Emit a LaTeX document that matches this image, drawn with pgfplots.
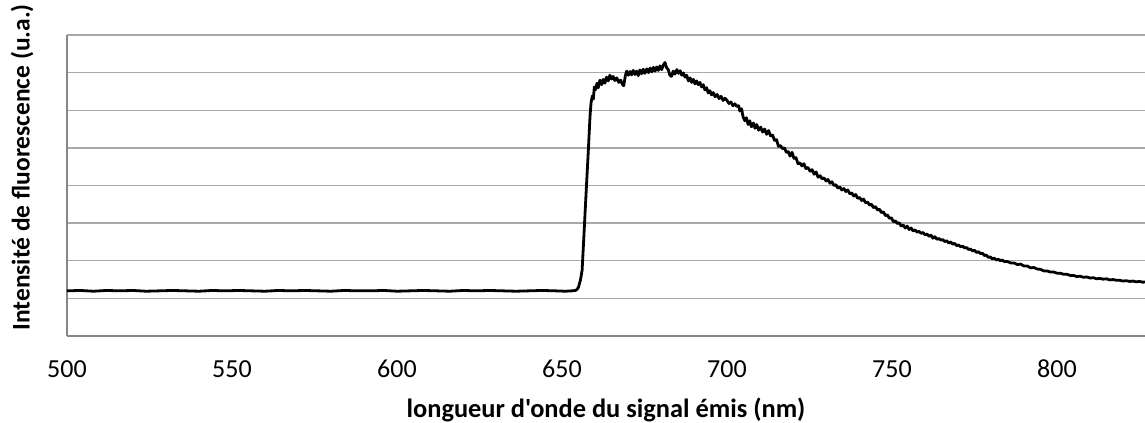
\documentclass[border=0pt]{standalone}
\usepackage{pgfplots}
\pgfplotsset{compat=1.18}
\usepackage{pgfplotstable}
\usepackage{fontspec}
\setmainfont{Carlito}[Ligatures=TeXOff]
\pgfplotstableread{
x y
500 1.20
504 1.21
508 1.19
512 1.21
516 1.20
520 1.21
524 1.19
528 1.20
532 1.21
536 1.20
540 1.19
544 1.21
548 1.20
552 1.21
556 1.20
560 1.19
564 1.21
568 1.20
572 1.21
576 1.20
580 1.19
584 1.21
588 1.20
592 1.20
596 1.21
600 1.19
604 1.20
608 1.21
612 1.20
616 1.19
620 1.21
624 1.20
628 1.21
632 1.20
636 1.19
640 1.20
644 1.21
648 1.20
651 1.19
653 1.20
654.0 1.21
654.5 1.23
655.0 1.30
655.6 1.49
656.1 1.75
656.7 2.77
657.3 3.80
657.9 4.80
658.5 5.85
658.8 6.20
659.2 6.38
659.5 6.30
659.8 6.62
660.2 6.55
660.6 6.72
661.0 6.60
661.5 6.80
662.0 6.68
662.5 6.82
663.0 6.72
663.5 6.88
664.0 6.78
664.5 6.93
665.0 6.83
665.5 6.90
666.0 6.79
666.6 6.86
667.2 6.74
667.8 6.80
668.3 6.69
668.7 6.65
669.2 6.92
669.6 7.04
670.1 6.93
670.6 7.03
671.1 6.94
671.6 7.06
672.1 6.95
672.6 7.04
673.1 6.92
673.6 7.07
674.1 6.97
674.6 7.09
675.1 6.98
675.7 7.10
676.2 7.00
676.7 7.12
677.2 7.02
677.7 7.14
678.2 7.04
678.7 7.15
679.2 7.06
679.7 7.18
680.2 7.08
680.7 7.20
681.2 7.27
681.7 7.13
682.2 7.08
682.7 6.93
683.2 6.90
683.7 7.04
684.2 6.96
684.8 7.08
685.3 6.98
685.8 7.05
686.3 6.93
686.8 6.99
687.3 6.88
687.8 6.93
688.3 6.78
688.8 6.86
689.3 6.74
689.8 6.82
690.3 6.70
690.8 6.78
691.3 6.68
691.8 6.74
692.3 6.62
692.8 6.68
693.3 6.54
693.8 6.60
694.3 6.46
694.8 6.52
695.3 6.41
695.8 6.47
696.4 6.36
697.0 6.42
697.6 6.31
698.2 6.37
698.8 6.26
699.4 6.32
700.0 6.26
700.6 6.18
701.2 6.22
701.8 6.12
702.4 6.17
703.0 6.10
703.5 6.12
703.9 5.98
704.4 6.04
704.9 5.82
705.4 5.72
705.9 5.80
706.4 5.62
706.9 5.72
707.4 5.56
708.0 5.66
708.5 5.52
709.0 5.62
709.6 5.47
710.2 5.55
710.8 5.42
711.4 5.50
712.0 5.36
712.6 5.46
713.2 5.32
713.8 5.34
714.4 5.20
715.0 5.22
715.6 5.04
716.2 5.06
716.8 4.98
717.4 5.00
718.0 4.88
718.6 4.90
719.1 4.78
719.7 4.88
720.3 4.72
720.9 4.74
721.5 4.58
722.1 4.60
722.7 4.52
723.3 4.58
723.9 4.45
724.5 4.48
725.2 4.38
725.8 4.42
726.4 4.30
727.0 4.36
727.6 4.22
728.2 4.26
728.8 4.18
729.4 4.20
730.0 4.12
730.6 4.16
731.2 4.06
731.8 4.10
732.4 4.00
733.0 4.02
733.6 3.93
734.2 3.96
734.8 3.88
735.4 3.92
736.0 3.84
736.6 3.88
737.2 3.78
737.8 3.80
738.4 3.72
739.0 3.76
739.6 3.66
740.2 3.68
740.8 3.60
741.4 3.64
742.0 3.54
742.6 3.56
743.2 3.48
743.8 3.50
744.4 3.41
745.0 3.44
745.6 3.35
746.2 3.37
746.8 3.28
747.4 3.30
748.0 3.20
748.6 3.22
749.2 3.13
749.8 3.14
750.4 3.04
751.0 3.06
751.6 2.99
752.2 3.01
752.8 2.92
753.4 2.95
754.0 2.87
754.6 2.92
755.2 2.83
755.8 2.87
756.4 2.79
757.0 2.82
757.6 2.76
758.2 2.78
758.8 2.73
759.4 2.75
760.0 2.69
760.6 2.71
761.2 2.65
761.8 2.68
762.4 2.60
763.0 2.64
763.6 2.57
764.2 2.59
764.8 2.55
765.4 2.56
766.0 2.51
766.6 2.53
767.2 2.47
767.8 2.50
768.4 2.44
769.0 2.46
769.6 2.40
770.2 2.42
770.8 2.37
771.4 2.39
772.0 2.34
772.6 2.35
773.2 2.30
773.8 2.31
774.4 2.26
775.0 2.28
775.6 2.22
776.2 2.24
776.8 2.19
777.4 2.20
778.0 2.14
778.6 2.15
779.2 2.09
779.8 2.10
780.4 2.05
781.0 2.07
781.6 2.02
782.2 2.04
782.8 2.00
783.4 2.02
784.0 1.98
785 1.98
786 1.94
787 1.94
788 1.90
789 1.91
790 1.86
791 1.86
792 1.81
793 1.82
794 1.78
795 1.77
796 1.73
797 1.73
798 1.70
799 1.70
800 1.67
801 1.67
802 1.64
803 1.64
804 1.61
805 1.61
806 1.58
807 1.59
808 1.56
809 1.57
810 1.54
811 1.55
812 1.52
813 1.53
814 1.51
815 1.52
816 1.49
817 1.50
818 1.48
819 1.48
820 1.46
821 1.47
822 1.45
823 1.46
824 1.44
825 1.45
826 1.43
827 1.44
}\spectre
\definecolor{gridgray}{RGB}{168,168,168}
\definecolor{axgray}{RGB}{134,134,134}
\begin{document}
\begin{tikzpicture}
\begin{axis}[
  at={(0,0)}, anchor=south west,
  scale only axis,
  width=808.5pt, height=225.75pt,
  xmin=500, xmax=826.67,
  ymin=0, ymax=8,
  axis x line=bottom, axis y line=left,
  axis line style={axgray, line width=1.4pt, -},
  xtick={500,550,...,800},
  ytick={1,...,8},
  yticklabels={},
  major tick length=0pt,
  ymajorgrids,
  grid style={gridgray, line width=1.1pt},
  xticklabel style={font=\fontsize{19.5}{22}\selectfont, anchor=center, yshift=-24.75pt},
  /pgf/number format/assume math mode=true,
  clip=true,
]
\addplot[black, line width=2.1pt, line join=round] table {\spectre};
\end{axis}
\node[rotate=90, font=\fontsize{19.1}{22}\selectfont\bfseries] at (-33.75pt,126.5pt) {Intensité de fluorescence (u.a.)};
\node[font=\fontsize{19.8}{22}\selectfont\bfseries] at (404.25pt,-55.5pt) {longueur d'onde du signal émis (nm)};
\pgfresetboundingbox
\path[use as bounding box] (-50.25pt,-65.25pt) rectangle (808.5pt,252pt);
\end{tikzpicture}
\end{document}
